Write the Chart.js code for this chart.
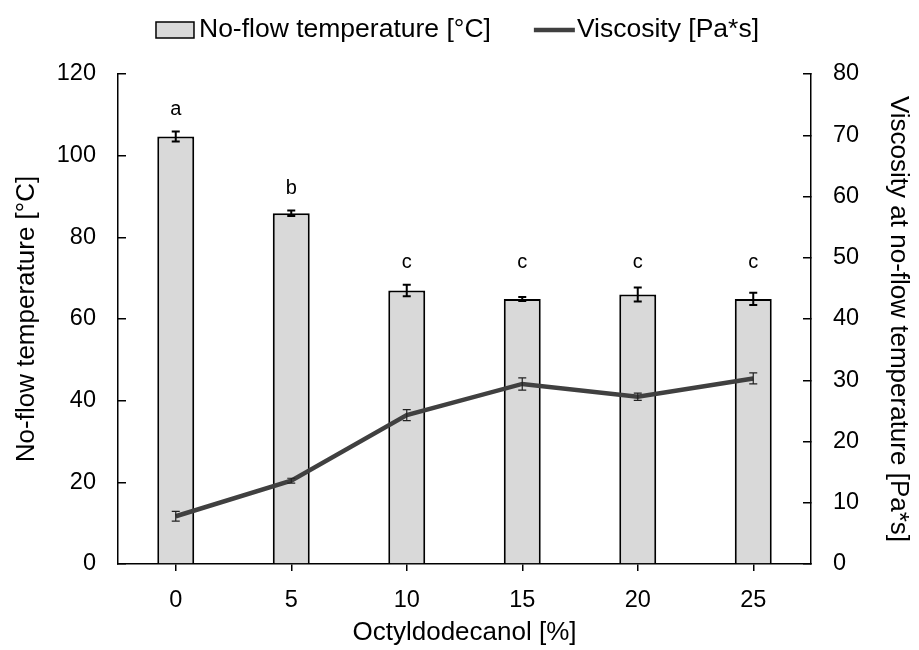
<!DOCTYPE html>
<html lang="en">
<head>
<meta charset="UTF-8">
<title>No-flow temperature and viscosity</title>
<script src="https://cdn.jsdelivr.net/npm/chart.js"></script>
<style>
  html, body { margin: 0; padding: 0; background: #fff; }
  #wrap { width: 919px; height: 650px; }
</style>
</head>
<body>
<div id="wrap"><canvas id="chart" width="919" height="650"></canvas></div>
<script>
// data
const categories = ['0', '5', '10', '15', '20', '25'];
const noFlowTemp = [104.7, 85.9, 67.0, 64.9, 66.0, 64.9];
const noFlowErr = [1.2, 0.7, 1.4, 0.5, 1.7, 1.5];
const viscosity = [7.8, 13.6, 24.3, 29.4, 27.3, 30.3];
const viscosityErr = [0.8, 0.4, 0.9, 1.0, 0.6, 0.9];
const letters = ['a', 'b', 'c', 'c', 'c', 'c'];

const FONT = "'Liberation Sans', Arial, sans-serif";

// error bars for both series + significance letters
const errorBars = {
  id: 'errorBars',
  afterDatasetsDraw(chart) {
    const ctx = chart.ctx;
    const x = chart.scales.x;
    const sets = [
      { scale: chart.scales.y, vals: noFlowTemp, errs: noFlowErr, color: '#000', lw: 2, cap: 4 },
      { scale: chart.scales.y1, vals: viscosity, errs: viscosityErr, color: '#222', lw: 1.2, cap: 4 }
    ];
    ctx.save();
    sets.forEach(s => {
      ctx.strokeStyle = s.color;
      ctx.lineWidth = s.lw;
      s.vals.forEach((v, i) => {
        const px = x.getPixelForValue(i);
        const top = s.scale.getPixelForValue(v + s.errs[i]);
        const bot = s.scale.getPixelForValue(v - s.errs[i]);
        ctx.beginPath();
        ctx.moveTo(px, top); ctx.lineTo(px, bot);
        ctx.moveTo(px - s.cap, top); ctx.lineTo(px + s.cap, top);
        ctx.moveTo(px - s.cap, bot); ctx.lineTo(px + s.cap, bot);
        ctx.stroke();
      });
    });

    // one level per letter group, above the highest error bar of the group
    const y = chart.scales.y;
    ctx.fillStyle = '#000';
    ctx.font = '20px ' + FONT;
    ctx.textAlign = 'center';
    ctx.textBaseline = 'middle';
    letters.forEach((l, i) => {
      let top = 0;
      letters.forEach((m, j) => {
        if (m === l) top = Math.max(top, noFlowTemp[j] + noFlowErr[j]);
      });
      ctx.fillText(l, x.getPixelForValue(i), y.getPixelForValue(top) - 22);
    });
    ctx.restore();
  }
};

// legend drawn like the reference (symbol right against the text)
const topLegend = {
  id: 'topLegend',
  afterDraw(chart) {
    const ctx = chart.ctx;
    const ds = chart.data.datasets;
    const cy = 30;
    ctx.save();
    ctx.font = '26.5px ' + FONT;
    ctx.textBaseline = 'middle';
    ctx.textAlign = 'left';
    const w1 = ctx.measureText(ds[0].label).width;
    const w2 = ctx.measureText(ds[1].label).width;
    const total = 38 + 5 + w1 + 43 + 41 + 2 + w2;
    let cx = (chart.chartArea.left + chart.chartArea.right) / 2 - 7 - total / 2;

    ctx.fillStyle = ds[0].backgroundColor;
    ctx.fillRect(cx, cy - 8, 38, 16);
    ctx.strokeStyle = '#000';
    ctx.lineWidth = 1.5;
    ctx.strokeRect(cx, cy - 8, 38, 16);
    cx += 38 + 5;
    ctx.fillStyle = '#000';
    ctx.fillText(ds[0].label, cx, cy);
    cx += w1 + 43;

    ctx.strokeStyle = ds[1].borderColor;
    ctx.lineWidth = ds[1].borderWidth;
    ctx.beginPath();
    ctx.moveTo(cx, cy); ctx.lineTo(cx + 41, cy);
    ctx.stroke();
    cx += 41 + 2;
    ctx.fillStyle = '#000';
    ctx.fillText(ds[1].label, cx, cy);
    ctx.restore();
  }
};

new Chart(document.getElementById('chart'), {
  type: 'bar',
  data: {
    labels: categories,
    datasets: [
      {
        type: 'bar',
        label: 'No-flow temperature [°C]',
        data: noFlowTemp,
        yAxisID: 'y',
        backgroundColor: '#d9d9d9',
        borderColor: '#000',
        borderWidth: 2,
        categoryPercentage: 1,
        barPercentage: 0.32,
        order: 1
      },
      {
        type: 'line',
        label: 'Viscosity [Pa*s]',
        data: viscosity,
        yAxisID: 'y1',
        borderColor: '#404040',
        backgroundColor: '#404040',
        borderWidth: 4.5,
        pointRadius: 0,
        tension: 0,
        order: 0
      }
    ]
  },
  options: {
    responsive: false,
    animation: false,
    layout: { padding: { top: 74, left: 0, right: 0, bottom: 0 } },
    plugins: {
      legend: { display: false },
      tooltip: { enabled: false }
    },
    scales: {
      x: {
        offset: true,
        grid: { display: true, offset: false, drawOnChartArea: false, drawTicks: true, tickLength: 7, color: '#000', lineWidth: 1.5 },
        border: { color: '#000', width: 1.5 },
        ticks: { color: '#000', font: { family: FONT, size: 23.5 }, padding: 15 },
        title: { display: true, text: 'Octyldodecanol [%]', color: '#000', font: { family: FONT, size: 26 }, padding: { top: 0, bottom: 2 } },
        afterFit: s => { s.height = 86; }
      },
      y: {
        position: 'left',
        min: 0, max: 120,
        ticks: { stepSize: 20, color: '#000', font: { family: FONT, size: 23.5 }, padding: 30 },
        grid: { drawOnChartArea: false, drawTicks: true, tickLength: -8, color: '#000', lineWidth: 1.5 },
        border: { color: '#000', width: 1.5 },
        title: { display: true, text: 'No-flow temperature [°C]', color: '#000', font: { family: FONT, size: 26 }, padding: { top: 11, bottom: 0 } },
        afterFit: s => { s.width = 118; }
      },
      y1: {
        position: 'right',
        min: 0, max: 80,
        ticks: { stepSize: 10, color: '#000', font: { family: FONT, size: 23.5 }, padding: 30 },
        grid: { drawOnChartArea: false, drawTicks: true, tickLength: -8, color: '#000', lineWidth: 1.5 },
        border: { color: '#000', width: 1.5 },
        title: { display: true, text: 'Viscosity at no-flow temperature [Pa*s]', color: '#000', font: { family: FONT, size: 26 }, padding: { top: 5, bottom: 0 } },
        afterFit: s => { s.width = 108; }
      }
    }
  },
  plugins: [errorBars, topLegend]
});
</script>
</body>
</html>
